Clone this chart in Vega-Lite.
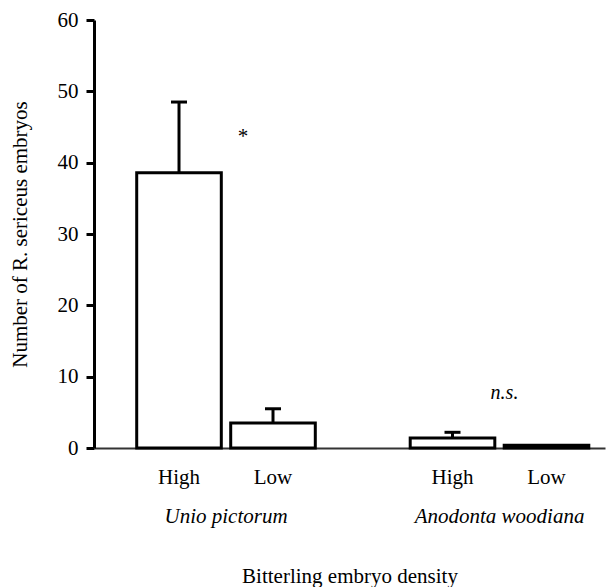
{
  "$schema": "https://vega.github.io/schema/vega-lite/v6.json",
  "autosize": {"type": "none"},
  "padding": {"left": 94, "top": 20, "right": 1, "bottom": 139},
  "width": 511,
  "height": 428,
  "background": "white",
  "config": {
    "view": {"stroke": null},
    "font": "Liberation Serif",
    "axis": {"labelFont": "Liberation Serif", "titleFont": "Liberation Serif", "labelColor": "black", "titleColor": "black", "titleFontWeight": "normal", "labelFontSize": 21, "titleFontSize": 21, "grid": false}
  },
  "datasets": {
    "bars": [
      {"species": "Unio pictorum", "density": "High", "mean": 38.6, "upper": 48.5},
      {"species": "Unio pictorum", "density": "Low", "mean": 3.5, "upper": 5.5},
      {"species": "Anodonta woodiana", "density": "High", "mean": 1.4, "upper": 2.2},
      {"species": "Anodonta woodiana", "density": "Low", "mean": 0.4, "upper": null}
    ],
    "notes": [
      {"species": "Unio pictorum", "label": "*", "value": 43.6, "style": "normal"},
      {"species": "Anodonta woodiana", "label": "n.s.", "value": 7.7, "style": "italic"}
    ]
  },
  "encoding": {
    "x": {
      "field": "species", "type": "nominal",
      "sort": ["Unio pictorum", "Anodonta woodiana"],
      "scale": {"type": "band", "domain": ["Unio pictorum", "Anodonta woodiana"], "paddingInner": 0.347, "paddingOuter": 0.1077, "align": 0.725},
      "axis": {"orient": "bottom", "ticks": false, "labelPadding": 57, "labelFontStyle": "italic", "labelAngle": 0, "domainColor": "#333333", "domainWidth": 2, "title": "Bitterling embryo density", "titlePadding": 39}
    }
  },
  "layer": [
    {
      "data": {"name": "bars"},
      "mark": {"type": "bar", "fill": "white", "stroke": "black", "strokeWidth": 3},
      "encoding": {
        "xOffset": {"field": "density", "type": "nominal", "sort": ["High", "Low"], "scale": {"domain": ["High", "Low"], "paddingInner": 0.1, "paddingOuter": 0}},
        "y": {
          "field": "mean", "type": "quantitative",
          "scale": {"domain": [0, 60], "nice": false},
          "axis": {"values": [0, 10, 20, 30, 40, 50, 60], "domainColor": "black", "domainWidth": 3, "tickColor": "black", "tickWidth": 3, "tickSize": 8, "labelPadding": 8, "title": "Number of R. sericeus embryos", "titlePadding": 27}
        }
      }
    },
    {
      "data": {"name": "bars"},
      "transform": [{"filter": "isValid(datum.upper)"}],
      "mark": {"type": "rule", "stroke": "black", "strokeWidth": 3},
      "encoding": {
        "xOffset": {"field": "density", "type": "nominal", "sort": ["High", "Low"]},
        "y": {"field": "mean", "type": "quantitative"},
        "y2": {"field": "upper"}
      }
    },
    {
      "data": {"name": "bars"},
      "transform": [{"filter": "isValid(datum.upper)"}],
      "mark": {"type": "tick", "orient": "horizontal", "color": "black", "size": 16, "thickness": 3, "opacity": 1},
      "encoding": {
        "xOffset": {"field": "density", "type": "nominal", "sort": ["High", "Low"]},
        "y": {"field": "upper", "type": "quantitative"}
      }
    },
    {
      "data": {"name": "bars"},
      "mark": {"type": "text", "font": "Liberation Serif", "fontSize": 21, "baseline": "middle", "align": "center", "dy": 30, "color": "black"},
      "encoding": {
        "xOffset": {"field": "density", "type": "nominal", "sort": ["High", "Low"]},
        "y": {"datum": 0},
        "text": {"field": "density"}
      }
    },
    {
      "data": {"name": "notes"},
      "transform": [{"filter": "datum.style == 'normal'"}],
      "mark": {"type": "text", "font": "Liberation Serif", "fontSize": 21, "baseline": "middle", "align": "center", "dx": 17, "color": "black"},
      "encoding": {
        "y": {"field": "value", "type": "quantitative"},
        "text": {"field": "label"}
      }
    },
    {
      "data": {"name": "notes"},
      "transform": [{"filter": "datum.style == 'italic'"}],
      "mark": {"type": "text", "font": "Liberation Serif", "fontSize": 20, "fontStyle": "italic", "baseline": "middle", "align": "center", "dx": 5, "color": "black"},
      "encoding": {
        "y": {"field": "value", "type": "quantitative"},
        "text": {"field": "label"}
      }
    }
  ]
}
